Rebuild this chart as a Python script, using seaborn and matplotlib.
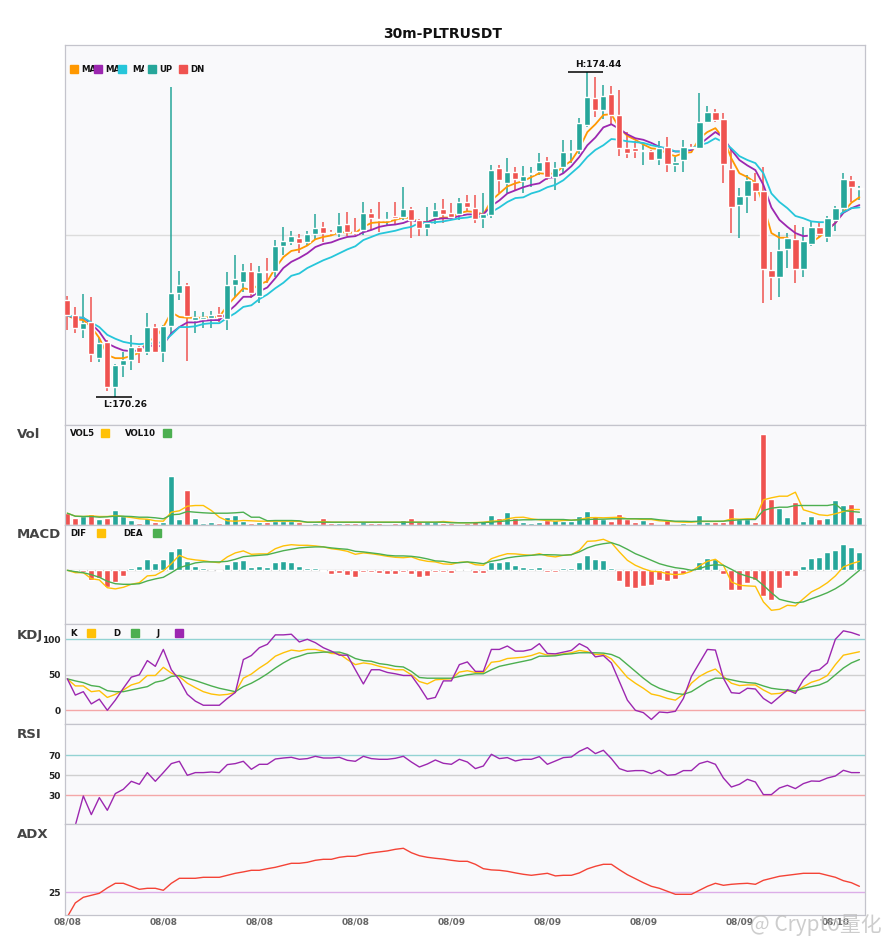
import numpy as np
import pandas as pd
import matplotlib
matplotlib.use("Agg")
import matplotlib.pyplot as plt
from matplotlib.patches import Rectangle
from matplotlib.transforms import Bbox, TransformedBbox
import seaborn as sns

# ---- data (30m candles, PLTRUSDT) ----
open_ = [171.51,171.31,171.13,171.22,170.76,170.97,170.39,170.67,170.74,170.90,
         170.84,171.16,170.84,171.17,171.60,171.70,171.25,171.26,171.28,171.33,
         171.26,171.70,171.74,171.88,171.56,171.88,171.88,172.20,172.25,172.31,
         172.25,172.36,172.45,172.38,172.37,172.49,172.38,172.41,172.63,172.55,
         172.54,172.59,172.58,172.68,172.54,172.43,172.58,172.68,172.63,172.61,
         172.77,172.69,172.56,172.60,173.21,173.01,173.15,173.04,173.13,173.17,
         173.30,173.09,173.22,173.41,173.44,173.76,174.11,173.95,174.16,173.89,
         173.46,173.46,173.43,173.42,173.32,173.48,173.24,173.31,173.48,173.46,
         173.80,173.93,173.84,173.19,172.73,172.85,173.03,172.91,171.89,171.80,
         172.16,172.29,171.91,172.23,172.45,172.32,172.54,172.69,173.05,172.94]
close = [171.31,171.15,171.21,170.81,170.95,170.39,170.67,170.74,170.90,170.84,
         171.16,170.84,171.17,171.60,171.70,171.30,171.29,171.29,171.31,171.29,
         171.70,171.78,171.88,171.60,171.87,171.87,172.20,172.27,172.33,172.24,
         172.36,172.43,172.37,172.37,172.47,172.38,172.37,172.63,172.56,172.54,
         172.55,172.56,172.68,172.54,172.43,172.50,172.67,172.61,172.58,172.77,
         172.70,172.55,172.61,173.18,173.05,173.15,173.06,173.10,173.14,173.28,
         173.09,173.21,173.41,173.43,173.78,174.12,173.95,174.13,173.89,173.46,
         173.40,173.42,173.44,173.31,173.46,173.26,173.28,173.48,173.47,173.80,
         173.93,173.82,173.26,172.70,172.85,173.05,172.91,171.91,171.80,172.15,
         172.31,171.91,172.27,172.45,172.36,172.56,172.69,173.06,172.96,172.95]
high = [171.56,171.42,171.58,171.55,171.03,170.99,170.69,170.84,171.06,170.92,
        171.34,171.20,171.19,174.25,171.88,171.73,171.37,171.35,171.37,171.42,
        171.87,172.09,171.97,171.98,171.94,172.05,172.28,172.45,172.40,172.36,
        172.40,172.61,172.51,172.41,172.63,172.64,172.56,172.77,172.68,172.77,
        172.64,172.77,172.96,172.70,172.55,172.70,172.76,172.81,172.76,172.82,
        172.86,172.86,172.88,173.24,173.24,173.33,173.22,173.23,173.22,173.40,
        173.35,173.28,173.57,173.57,173.85,174.44,174.38,174.27,174.26,174.21,
        173.67,173.55,173.50,173.44,173.55,173.60,173.35,173.57,173.51,174.17,
        174.00,173.96,173.91,173.46,172.95,173.12,173.14,173.22,172.12,172.38,
        172.37,172.48,172.45,172.51,172.50,172.59,172.72,173.14,173.10,172.97]
low = [171.12,171.08,171.02,170.71,170.71,170.34,170.26,170.52,170.61,170.70,
       170.80,170.83,170.71,171.06,171.51,170.72,171.08,171.15,171.15,171.22,
       171.12,171.55,171.61,171.53,171.47,171.73,171.80,172.09,172.21,172.11,
       172.21,172.28,172.25,172.34,172.32,172.33,172.34,172.34,172.41,172.38,
       172.48,172.47,172.54,172.31,172.33,172.33,172.49,172.50,172.54,172.54,
       172.64,172.50,172.43,172.57,172.88,172.88,172.91,172.88,172.96,173.12,
       173.05,172.92,173.14,173.27,173.39,173.73,173.86,173.84,173.77,173.36,
       173.33,173.33,173.24,173.30,173.24,173.15,173.15,173.15,173.44,173.45,
       173.78,173.80,173.01,172.37,172.30,172.63,172.78,171.47,171.51,171.55,
       171.92,171.73,171.80,172.20,172.32,172.25,172.40,172.63,172.77,172.79]

ma5 = [171.31,171.26,171.25,171.16,171.02,170.80,170.76,170.76,170.79,170.83,
       170.98,171.02,171.16,171.35,171.29,171.28,171.28,171.28,171.29,171.29,
       171.44,171.55,171.66,171.64,171.71,171.75,171.92,172.06,172.14,172.16,
       172.21,172.29,172.32,172.34,172.38,172.38,172.37,172.45,172.50,172.51,
       172.51,172.54,172.57,172.56,172.51,172.51,172.55,172.57,172.57,172.63,
       172.65,172.64,172.61,172.79,172.88,172.97,173.01,173.04,173.09,173.14,
       173.13,173.14,173.23,173.30,173.46,173.67,173.77,173.89,173.90,173.72,
       173.62,173.57,173.51,173.46,173.45,173.39,173.36,173.40,173.41,173.59,
       173.67,173.72,173.59,173.33,173.14,173.09,173.02,172.73,172.37,172.31,
       172.31,172.18,172.20,172.25,172.32,172.41,172.50,172.64,172.76,172.83]
ma10 = [171.31,171.28,171.28,171.20,171.10,170.95,170.90,170.86,170.85,170.86,
        170.94,170.90,170.93,171.08,171.16,171.22,171.22,171.24,171.25,171.25,
        171.35,171.44,171.55,171.55,171.62,171.67,171.79,171.92,172.00,172.05,
        172.11,172.19,172.23,172.25,172.29,172.32,172.33,172.38,172.41,172.45,
        172.47,172.48,172.50,172.54,172.51,172.51,172.55,172.56,172.56,172.59,
        172.61,172.61,172.61,172.72,172.79,172.88,172.92,172.96,172.99,173.01,
        173.08,173.09,173.14,173.23,173.35,173.50,173.60,173.73,173.77,173.71,
        173.64,173.59,173.57,173.53,173.48,173.44,173.42,173.42,173.44,173.51,
        173.59,173.67,173.60,173.44,173.31,173.24,173.18,172.99,172.70,172.54,
        172.45,172.37,172.33,172.34,172.36,172.41,172.50,172.63,172.69,172.73]
ma20 = [171.31,171.29,171.28,171.22,171.16,171.06,171.01,170.97,170.95,170.94,
        170.95,170.95,170.97,171.06,171.16,171.16,171.17,171.20,171.21,171.21,
        171.28,171.34,171.42,171.44,171.52,171.58,171.66,171.73,171.82,171.85,
        171.92,171.97,172.02,172.06,172.11,172.16,172.20,172.28,172.32,172.36,
        172.38,172.40,172.43,172.45,172.50,172.50,172.51,172.52,172.54,172.56,
        172.57,172.59,172.57,172.64,172.70,172.77,172.82,172.83,172.88,172.91,
        172.96,172.99,173.05,173.14,173.23,173.35,173.44,173.50,173.58,173.57,
        173.55,173.54,173.53,173.50,173.48,173.46,173.42,173.42,173.46,173.50,
        173.53,173.59,173.54,173.46,173.36,173.31,173.27,173.14,172.88,172.77,
        172.69,172.59,172.56,172.52,172.51,172.51,172.57,172.64,172.69,172.70]

volume = [1130,630,900,1030,530,670,1430,900,430,130,
          670,230,230,4830,530,3430,630,130,230,130,
          730,930,370,130,230,300,370,370,370,300,
          100,170,630,170,170,170,170,230,170,170,
          100,170,430,630,300,230,230,200,170,70,
          130,330,330,930,630,1230,630,230,130,230,
          430,430,330,330,830,1330,830,530,330,1030,
          570,230,470,230,70,500,70,170,70,930,
          270,230,270,1630,570,570,270,9070,2570,1700,
          730,2230,330,900,530,630,2430,1970,2030,730]
vol5 = [1130,830,800,870,800,800,900,800,700,570,
        530,370,330,1230,1370,1830,1900,1900,1400,730,
        370,330,400,370,330,330,330,330,330,300,
        230,230,300,230,230,230,230,230,230,230,
        230,230,230,230,230,230,230,300,230,170,
        170,200,230,330,370,570,700,730,570,470,
        400,330,400,430,500,670,700,670,700,730,
        570,570,500,500,370,330,270,230,230,300,
        300,300,330,570,530,570,570,2470,2670,2830,
        2830,3230,1470,1230,970,900,1070,1300,1500,1500]
vol10 = [1130,830,800,800,730,770,830,830,800,730,
         730,670,570,970,1030,1300,1230,1170,1130,1130,
         1130,1170,1230,730,730,370,400,400,400,370,
         230,230,230,230,230,230,230,230,230,230,
         230,230,230,230,230,230,230,230,170,170,
         170,170,200,230,300,370,430,470,470,500,
         500,500,500,430,470,500,530,530,570,570,
         570,570,570,570,470,400,330,330,300,330,
         330,330,330,400,470,500,500,1400,1630,1730,
         1730,1900,1900,1900,1900,1900,2030,1400,1300,1230]

dif = [0.000,-0.012,-0.012,-0.042,-0.048,-0.087,-0.093,-0.085,-0.070,-0.062,
       -0.028,-0.025,-0.003,0.033,0.075,0.058,0.052,0.048,0.042,0.038,
       0.067,0.087,0.097,0.080,0.082,0.082,0.108,0.122,0.128,0.125,
       0.125,0.122,0.117,0.108,0.103,0.095,0.080,0.087,0.083,0.077,
       0.070,0.065,0.063,0.067,0.053,0.045,0.042,0.032,0.030,0.040,
       0.042,0.028,0.025,0.058,0.072,0.083,0.082,0.078,0.075,0.083,
       0.072,0.067,0.075,0.078,0.100,0.145,0.147,0.155,0.138,0.092,
       0.050,0.025,0.008,-0.005,-0.007,-0.017,-0.022,-0.018,-0.005,0.022,
       0.045,0.055,0.025,-0.058,-0.075,-0.078,-0.080,-0.158,-0.200,-0.195,
       -0.175,-0.178,-0.142,-0.108,-0.088,-0.062,-0.028,0.017,0.033,0.045]
dea = [0.000,-0.007,-0.012,-0.022,-0.035,-0.055,-0.067,-0.070,-0.070,-0.067,
       -0.053,-0.043,-0.035,-0.012,0.013,0.025,0.037,0.042,0.042,0.042,
       0.045,0.055,0.068,0.072,0.075,0.078,0.088,0.098,0.105,0.112,
       0.115,0.117,0.117,0.112,0.108,0.105,0.095,0.092,0.087,0.082,
       0.075,0.072,0.072,0.070,0.065,0.057,0.047,0.045,0.038,0.038,
       0.042,0.038,0.033,0.045,0.052,0.062,0.068,0.072,0.075,0.078,
       0.078,0.077,0.075,0.078,0.092,0.112,0.125,0.133,0.138,0.125,
       0.105,0.083,0.067,0.050,0.033,0.022,0.013,0.008,0.000,0.008,
       0.022,0.028,0.025,0.005,-0.017,-0.030,-0.042,-0.075,-0.112,-0.145,
       -0.155,-0.163,-0.158,-0.142,-0.128,-0.112,-0.092,-0.067,-0.033,0.000]
macd_hist = [0.000,-0.007,-0.007,-0.047,-0.037,-0.083,-0.058,-0.028,0.012,0.022,
             0.057,0.037,0.057,0.097,0.112,0.047,0.022,0.012,0.000,-0.003,
             0.032,0.047,0.052,0.017,0.022,0.017,0.042,0.047,0.042,0.022,
             0.012,0.012,-0.003,-0.018,-0.013,-0.023,-0.033,-0.008,-0.008,-0.013,
             -0.018,-0.018,-0.008,-0.018,-0.033,-0.028,-0.008,-0.008,-0.012,0.007,
             0.007,-0.012,-0.012,0.042,0.042,0.047,0.025,0.017,0.012,0.017,
             -0.007,-0.007,0.012,0.012,0.042,0.077,0.057,0.052,0.012,-0.053,
             -0.083,-0.087,-0.078,-0.073,-0.048,-0.053,-0.043,-0.017,0.003,0.042,
             0.062,0.057,-0.018,-0.098,-0.098,-0.063,-0.048,-0.128,-0.147,-0.088,
             -0.028,-0.028,0.022,0.062,0.067,0.092,0.102,0.132,0.117,0.092]

k_line = [44.3,34.3,34.3,26.2,27.6,18.1,22.4,28.6,35.7,39.0,
          49.0,49.0,60.5,52.4,47.6,38.1,31.9,26.2,22.9,21.4,
          22.4,25.2,45.2,51.0,59.5,66.7,76.2,81.0,84.8,83.3,
          85.7,85.7,83.3,80.0,79.5,71.4,64.3,66.7,65.2,61.9,
          59.5,57.1,57.1,50.0,40.5,37.1,42.9,43.8,44.3,53.8,
          55.7,53.3,53.3,67.6,69.0,72.9,73.8,74.8,77.1,81.0,
          77.6,77.6,79.5,81.0,84.3,82.4,78.6,78.6,72.4,59.5,
          46.2,38.1,31.0,22.9,20.5,16.7,14.3,22.4,38.1,47.6,
          53.8,58.1,47.6,38.1,34.8,35.7,35.7,28.6,22.9,23.8,
          27.1,26.2,33.3,39.5,42.9,49.0,64.3,77.6,80.0,82.4]
d_line = [44.3,41.4,39.0,34.8,33.3,27.6,26.2,26.2,28.6,31.0,
          33.3,39.5,41.9,47.6,49.0,45.2,41.9,38.1,34.3,31.0,
          28.6,26.2,33.3,38.1,44.3,51.4,59.5,66.7,72.9,76.2,
          80.0,81.0,81.9,81.9,81.9,78.6,72.9,70.0,69.0,65.7,
          64.3,61.9,61.0,54.8,46.2,45.2,45.2,45.2,45.2,47.6,
          50.0,51.4,51.4,57.1,61.9,64.3,66.7,69.0,71.4,76.2,
          76.2,76.7,78.6,79.5,81.0,81.0,81.0,80.5,78.6,73.8,
          64.3,54.8,45.2,36.7,31.0,27.1,23.8,22.4,26.2,33.3,
          40.5,45.2,45.2,42.9,40.5,39.0,38.1,34.3,31.0,29.5,
          28.6,27.1,31.0,33.3,35.7,40.5,50.0,59.5,66.7,71.4]
j_line = [44.3,21.4,26.2,9.0,15.7,0.0,14.3,31.0,46.7,50.0,
          70.0,61.9,85.7,57.1,42.9,22.4,12.9,7.1,7.1,7.1,
          16.7,25.2,71.4,77.1,88.1,92.9,106.2,106.2,107.1,96.2,
          100.0,95.2,88.1,83.3,77.6,77.6,57.1,37.1,57.1,57.1,
          53.3,51.4,49.0,49.0,33.3,15.7,18.1,41.4,41.4,64.3,
          68.1,54.8,54.8,85.7,85.7,90.5,83.3,83.3,85.7,93.8,
          80.0,79.5,81.9,84.3,93.8,88.1,75.2,77.1,66.7,40.5,
          14.3,0.0,-3.3,-12.9,-2.4,-3.3,-1.4,16.7,47.6,66.7,
          85.7,84.8,45.2,24.8,23.8,31.0,30.0,16.7,9.5,19.0,
          28.6,23.8,42.9,54.8,57.1,66.7,100.0,111.9,109.5,105.7]

rsi = [0.0,0.0,29.3,10.7,27.7,15.0,31.7,36.0,44.0,41.0,
       52.7,44.0,52.7,61.7,64.0,50.0,52.7,52.7,53.3,52.7,
       60.7,61.7,64.0,56.0,61.0,61.0,66.3,67.3,68.0,66.0,
       66.7,69.0,67.3,67.3,68.0,65.0,64.0,69.0,66.7,66.0,
       66.0,67.0,69.0,63.3,58.3,61.3,65.3,62.0,61.0,66.0,
       63.3,56.7,59.3,71.0,66.7,67.7,64.3,66.0,66.0,68.7,
       61.0,64.3,67.7,68.3,74.0,77.7,71.7,75.0,66.7,56.7,
       54.0,54.7,54.7,51.7,55.0,50.0,50.7,54.7,54.7,61.7,
       64.0,61.0,47.3,38.3,41.0,46.0,43.3,30.7,30.7,37.3,
       40.0,36.7,41.7,44.3,44.0,47.3,49.3,55.0,52.7,52.7]

adx = [12.7,19.7,22.5,23.5,24.5,27.2,29.5,29.5,28.0,26.5,
       27.0,27.0,26.0,29.5,32.0,32.0,32.0,32.5,32.5,32.5,
       33.5,34.5,35.2,36.0,36.0,36.8,37.5,38.5,39.5,39.5,
       40.0,41.0,41.5,41.5,42.5,43.0,43.0,44.0,44.7,45.2,
       45.7,46.5,47.0,44.8,43.3,42.5,42.0,41.6,41.0,40.5,
       40.5,39.0,36.8,36.2,36.0,35.5,34.7,34.0,33.5,34.0,
       34.5,33.2,33.5,33.5,34.7,36.7,38.0,39.0,39.0,36.3,
       33.8,31.8,29.8,28.0,27.0,25.5,24.0,24.0,24.0,26.0,
       28.0,29.5,28.5,29.0,29.3,29.5,29.0,31.0,32.0,33.0,
       33.5,34.0,34.5,34.5,34.5,33.5,32.5,30.8,29.8,28.0]

tick_pos = [0, 12, 24, 36, 48, 60, 72, 84, 96]
tick_labels = ["08/08", "08/08", "08/08", "08/08",
               "08/09", "08/09", "08/09", "08/09", "08/10"]

# ---- styling ----
UP, DN = "#26a69a", "#ef5350"
C_MA5, C_MA10, C_MA20 = "#ff9800", "#9c27b0", "#26c6da"
C_Y, C_G, C_P = "#ffc107", "#4caf50", "#9c27b0"
BG = "#f9f9fb"
SPINE = "#c4c4cc"

W, H = 885, 950


def fx(px):
    return px / W


def fy(py):
    return 1 - py / H


sns.set_theme(style="white")
plt.rcParams["font.family"] = ["DejaVu Sans"]

df = pd.DataFrame({"x": np.arange(len(close)), "open": open_, "close": close,
                   "high": high, "low": low, "ma5": ma5, "ma10": ma10, "ma20": ma20,
                   "vol": volume, "vol5": vol5, "vol10": vol10, "dif": dif,
                   "dea": dea, "hist": macd_hist, "k": k_line, "d": d_line,
                   "j": j_line, "rsi": rsi, "adx": adx})
df["up"] = df["close"] >= df["open"]
df["color"] = np.where(df["up"], UP, DN)

fig = plt.figure(figsize=(8.85, 9.5), dpi=100)
fig.patch.set_facecolor("white")


def panel(top, bottom):
    ax = fig.add_axes([fx(65), fy(bottom), fx(800), (bottom - top) / H])
    ax.set_facecolor(BG)
    for s in ax.spines.values():
        s.set_color(SPINE)
        s.set_linewidth(0.9)
    ax.set_xlim(-0.29, 99.7)
    ax.tick_params(length=0)
    ax.set_xticks([])
    ax.set_yticks([])
    return ax


def line(ax, col, color, lw=1.0):
    sns.lineplot(data=df, x="x", y=col, ax=ax, color=color, lw=lw,
                 estimator=None, sort=False, legend=False)
    ax.set_xlabel("")
    ax.set_ylabel("")


ax_main = panel(45, 425)
ax_vol = panel(425, 524.5)
ax_macd = panel(524.5, 624)
ax_kdj = panel(624, 724)
ax_rsi = panel(724, 824)
ax_adx = panel(824, 915)

# ---- candles ----
ylo, yhi = 169.90, 174.79
ax_main.set_ylim(ylo, yhi)
ax_main.axhline((ylo + yhi) / 2, color="#dcdcdc", lw=1, zorder=0)
ax_main.vlines(df["x"], df["low"], df["high"], colors=df["color"], lw=1.1, zorder=2)
body = np.maximum((df["close"] - df["open"]).abs(), 0.008)
ax_main.bar(df["x"], body, bottom=np.minimum(df["open"], df["close"]),
            width=0.78, color=df["color"], zorder=3)
line(ax_main, "ma5", C_MA5, 1.3)
line(ax_main, "ma10", C_MA10, 1.3)
line(ax_main, "ma20", C_MA20, 1.3)
ax_main.set_xlim(-0.29, 99.7)
ax_main.set_ylim(ylo, yhi)

ih, il = int(df["high"].idxmax()), int(df["low"].idxmin())
hv, lv = df["high"][ih], df["low"][il]
ax_main.hlines(hv, ih - 2.4, ih + 2.0, color="black", lw=1.1, zorder=4)
ax_main.annotate(f"H:{hv:.2f}", xy=(ih - 1.5, hv), xytext=(0, 2), textcoords="offset points",
                 ha="left", va="bottom", fontsize=6.5, fontweight="bold", color="#111")
ax_main.hlines(lv, il - 2.4, il + 2.1, color="black", lw=1.1, zorder=4)
ax_main.annotate(f"L:{lv:.2f}", xy=(il - 1.5, lv), xytext=(0, -2.5), textcoords="offset points",
                 ha="left", va="top", fontsize=6.5, fontweight="bold", color="#111")

# ---- volume ----
ax_vol.bar(df["x"], df["vol"], width=0.75, color=df["color"], zorder=2)
line(ax_vol, "vol5", C_Y, 1.0)
line(ax_vol, "vol10", C_G, 1.0)
ax_vol.set_xlim(-0.29, 99.7)
ax_vol.set_ylim(0, 9950)

# ---- MACD ----
ax_macd.axhline(0, color="#cccccc", lw=1, zorder=0)
ax_macd.bar(df["x"], df["hist"], width=0.75,
            color=np.where(df["hist"] >= 0, UP, DN), zorder=2)
line(ax_macd, "dif", C_Y, 1.0)
line(ax_macd, "dea", C_G, 1.0)
ax_macd.set_xlim(-0.29, 99.7)
ax_macd.set_ylim(-0.2685, 0.229)

# ---- KDJ ----
for lvl, c in [(100, "#93d3d3"), (50, "#d0d0d0"), (0, "#f4a7a7")]:
    ax_kdj.axhline(lvl, color=c, lw=1, zorder=0)
line(ax_kdj, "k", C_Y, 1.0)
line(ax_kdj, "d", C_G, 1.0)
line(ax_kdj, "j", C_P, 1.0)
ax_kdj.set_xlim(-0.29, 99.7)
ax_kdj.set_ylim(-19.3, 121.5)
ax_kdj.set_yticks([0, 50, 100])

# ---- RSI ----
for lvl, c in [(70, "#93d3d3"), (50, "#d0d0d0"), (30, "#f4a7a7")]:
    ax_rsi.axhline(lvl, color=c, lw=1, zorder=0)
line(ax_rsi, "rsi", C_P, 1.0)
ax_rsi.set_xlim(-0.29, 99.7)
ax_rsi.set_ylim(1.3, 101.3)
ax_rsi.set_yticks([30, 50, 70])

# ---- ADX ----
ax_adx.axhline(25, color="#dcaee8", lw=1, zorder=0)
line(ax_adx, "adx", "#f44336", 1.0)
ax_adx.set_xlim(-0.29, 99.7)
ax_adx.set_ylim(13.65, 59.15)
ax_adx.set_yticks([25])
ax_adx.set_xticks(tick_pos)
ax_adx.set_xticklabels(tick_labels)

for ax in (ax_kdj, ax_rsi, ax_adx):
    ax.tick_params(axis="y", length=0, pad=3, labelsize=6.5, labelcolor="#222")
    for t in ax.get_yticklabels():
        t.set_fontweight("bold")
ax_adx.tick_params(axis="x", length=0, pad=2, labelsize=6.5, labelcolor="#666")
for t in ax_adx.get_xticklabels():
    t.set_fontweight("bold")

# ---- titles, panel names, legends ----
fig.text(0.5, fy(34), "30m-PLTRUSDT", ha="center", va="center",
         fontsize=10, fontweight="bold", color="#111")
for name, py in [("Vol", 435), ("MACD", 535), ("KDJ", 635), ("RSI", 735), ("ADX", 835)]:
    fig.text(fx(17), fy(py), name, ha="left", va="center",
             fontsize=9.5, fontweight="bold", color="#444")


def square(px, py, color, size=8):
    fig.add_artist(Rectangle((fx(px), fy(py + size / 2)), size / W, size / H,
                             transform=fig.transFigure, color=color, zorder=6))


def label(px, py, text, clip_to=None):
    t = fig.text(fx(px), fy(py), text, ha="left", va="center", fontsize=6.2,
                 fontweight="bold", color="#111", zorder=3)
    if clip_to is not None:
        # legend names run into the next swatch in the source; cut them there
        t.set_clip_box(TransformedBbox(Bbox([[0, 0], [fx(clip_to), 1]]), fig.transFigure))
        t.set_clip_on(True)


# main legend: square then text, the next square sits over the text tail
for sx, tx, c, t, cut in [(70, 81, C_MA5, "MA5", 94), (94, 105, C_MA10, "MA10", 118),
                          (118, 132, C_MA20, "MA20", 144), (148, 159, UP, "UP", None),
                          (179, 190, DN, "DN", None)]:
    label(tx, 69, t, cut)
    square(sx, 69, c)

for tx, sx, c, t, py in [(70, 101, C_Y, "VOL5", 433), (125, 163, C_G, "VOL10", 433),
                         (70, 97, C_Y, "DIF", 533), (123, 153, C_G, "DEA", 533),
                         (70, 87, C_Y, "K", 633), (113, 131, C_G, "D", 633),
                         (157, 175, C_P, "J", 633)]:
    label(tx, py, t)
    square(sx, py, c)

# faint watermark like the source screenshot
fig.text(fx(750), fy(925), "@ Crypto量化", ha="left", va="center", fontsize=15,
         color="#bdbdbd", alpha=0.75, family=["Noto Sans CJK SC", "DejaVu Sans"], zorder=7)

fig.savefig("out.png", dpi=100, facecolor="white")
